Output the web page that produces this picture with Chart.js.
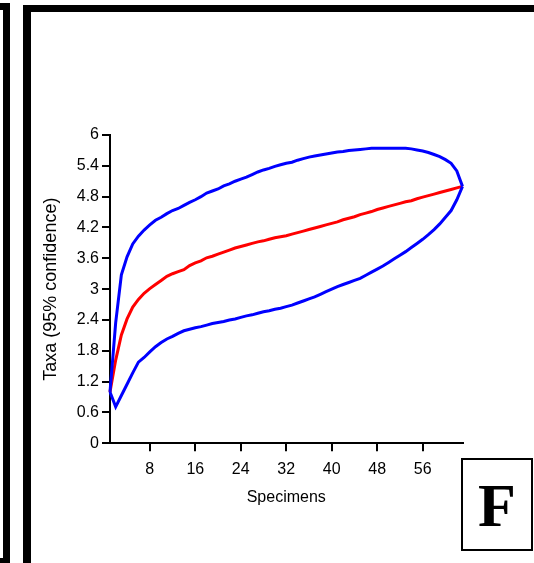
<!DOCTYPE html>
<html>
<head>
<meta charset="utf-8">
<script src="https://cdn.jsdelivr.net/npm/chart.js@4/dist/chart.umd.min.js"></script>
<style>
  html, body { margin: 0; padding: 0; background: #fff; }
  body { width: 534px; height: 563px; position: relative; overflow: hidden; }
  #chart { position: absolute; left: 0; top: 0; }
  .bar { position: absolute; background: #000; }
  #panelTag {
    position: absolute; left: 461px; top: 458px; width: 72px; height: 93px;
    box-sizing: border-box; border: 2px solid #000; background: #fff;
    font: bold 62px "Liberation Serif", "Times New Roman", serif;
    display: flex; align-items: center; justify-content: center; line-height: 1;
  }
</style>
</head>
<body>
<canvas id="chart" width="534" height="563"></canvas>

<!-- panel frames -->
<div class="bar" style="left:3px;top:3px;width:7px;height:560px"></div>
<div class="bar" style="left:0;top:3px;width:10px;height:7px"></div>
<div class="bar" style="left:0;top:558px;width:3px;height:5px"></div>
<div class="bar" style="left:23px;top:5px;width:511px;height:7px"></div>
<div class="bar" style="left:23px;top:5px;width:8px;height:558px"></div>
<div id="panelTag">F</div>

<script>
// Rarefaction curve: taxa vs specimens, with 95% confidence bounds
const specimens = [1, 2, 3, 4, 5, 6, 7, 8, 9, 10, 11, 12, 13, 14, 15, 16, 17, 18, 19, 20,
  21, 22, 23, 24, 25, 26, 27, 28, 29, 30, 31, 32, 33, 34, 35, 36, 37, 38, 39, 40,
  41, 42, 43, 44, 45, 46, 47, 48, 49, 50, 51, 52, 53, 54, 55, 56, 57, 58, 59, 60,
  61, 62, 63];

const taxaMean = [1.00, 1.62, 2.11, 2.42, 2.65, 2.80, 2.92, 3.01, 3.09, 3.17,
  3.25, 3.30, 3.34, 3.38, 3.46, 3.51, 3.55, 3.61, 3.64, 3.68,
  3.72, 3.76, 3.80, 3.83, 3.86, 3.89, 3.92, 3.94, 3.97, 4.00,
  4.02, 4.04, 4.07, 4.10, 4.13, 4.16, 4.19, 4.22, 4.25, 4.28,
  4.31, 4.35, 4.38, 4.41, 4.45, 4.48, 4.51, 4.55, 4.58, 4.61,
  4.64, 4.67, 4.70, 4.72, 4.76, 4.79, 4.82, 4.85, 4.88, 4.91,
  4.94, 4.97, 5.00];

const taxaUpper = [1.00, 2.35, 3.28, 3.63, 3.88, 4.03, 4.15, 4.25, 4.34, 4.40,
  4.47, 4.53, 4.57, 4.63, 4.69, 4.74, 4.80, 4.87, 4.91, 4.95,
  5.01, 5.05, 5.10, 5.14, 5.18, 5.23, 5.28, 5.32, 5.35, 5.39,
  5.42, 5.45, 5.47, 5.51, 5.54, 5.57, 5.59, 5.61, 5.63, 5.65,
  5.67, 5.68, 5.70, 5.71, 5.72, 5.73, 5.74, 5.74, 5.74, 5.74,
  5.74, 5.74, 5.74, 5.73, 5.71, 5.69, 5.66, 5.62, 5.58, 5.52,
  5.45, 5.30, 5.00];

const taxaLower = [1.00, 0.71, 0.93, 1.15, 1.37, 1.58, 1.67, 1.78, 1.88, 1.96,
  2.03, 2.08, 2.14, 2.19, 2.22, 2.25, 2.27, 2.30, 2.33, 2.35,
  2.37, 2.40, 2.42, 2.45, 2.48, 2.50, 2.53, 2.56, 2.58, 2.61,
  2.63, 2.66, 2.69, 2.73, 2.77, 2.81, 2.85, 2.90, 2.95, 3.00,
  3.05, 3.09, 3.13, 3.17, 3.21, 3.27, 3.33, 3.39, 3.45, 3.52,
  3.59, 3.66, 3.73, 3.81, 3.89, 3.97, 4.06, 4.16, 4.27, 4.40,
  4.53, 4.74, 5.00];

const xTicks = [8, 16, 24, 32, 40, 48, 56];
const yTicks = [0, 0.6, 1.2, 1.8, 2.4, 3, 3.6, 4.2, 4.8, 5.4, 6];
const yTickLabels = ['0', '0.6', '1.2', '1.8', '2.4', '3', '3.6', '4.2', '4.8', '5.4', '6'];

function toPoints(xs, ys) {
  return xs.map((x, i) => ({ x: x, y: ys[i] }));
}

function lineSet(label, values, color) {
  return {
    label: label,
    data: toPoints(specimens, values),
    borderColor: color,
    borderWidth: 3,
    pointRadius: 0,
    tension: 0,
    fill: false,
    clip: false,
  };
}

const FONT = '"Liberation Sans", Arial, sans-serif';

// ── Chart ───────────────────────────────────────────────────────
new Chart(document.getElementById('chart').getContext('2d'), {
  type: 'line',
  data: {
    datasets: [
      lineSet('Upper 95%', taxaUpper, '#0000ff'),
      lineSet('Lower 95%', taxaLower, '#0000ff'),
      lineSet('Taxa', taxaMean, '#ff0000'),
    ],
  },
  options: {
    responsive: false,
    animation: false,
    events: [],
    layout: { padding: { left: 0, top: 135, right: 71.5, bottom: 0 } },
    plugins: { legend: { display: false }, tooltip: { enabled: false } },
    scales: {
      x: {
        type: 'linear',
        min: 1,
        max: 63,
        afterBuildTicks: s => { s.ticks = xTicks.map(v => ({ value: v })); },
        afterFit: s => { s.height = 119.7; },
        border: { display: true, color: '#000', width: 2 },
        grid: { display: true, drawOnChartArea: false, drawTicks: true, tickLength: 8, color: '#000', lineWidth: 2 },
        ticks: { color: '#000', padding: 9, maxRotation: 0, font: { family: FONT, size: 16 } },
        title: {
          display: true, text: 'Specimens', color: '#000',
          font: { family: FONT, size: 16 }, padding: { top: 0, bottom: 56 },
        },
      },
      y: {
        min: 0,
        max: 6,
        afterBuildTicks: s => { s.ticks = yTicks.map(v => ({ value: v })); },
        afterFit: s => { s.width = 110; },
        border: { display: true, color: '#000', width: 2 },
        grid: { display: true, drawOnChartArea: false, drawTicks: true, tickLength: 8, color: '#000', lineWidth: 2 },
        ticks: {
          color: '#000', padding: 3, font: { family: FONT, size: 16 },
          callback: (v, i) => yTickLabels[i],
        },
        title: {
          display: true, text: 'Taxa (95% confidence)', color: '#000',
          font: { family: FONT, size: 18 }, padding: { top: 40, bottom: 0 },
        },
      },
    },
  },
});
</script>
</body>
</html>
